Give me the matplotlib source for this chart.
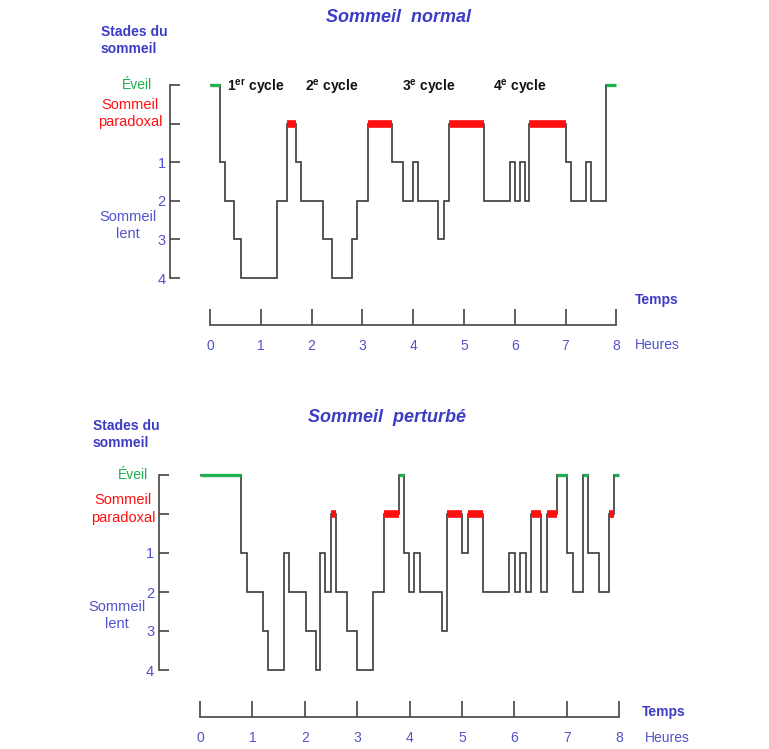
import matplotlib.pyplot as plt

plt.rcParams['font.family'] = ['Liberation Sans', 'DejaVu Sans']
plt.rcParams['mathtext.fontset'] = 'custom'
plt.rcParams['mathtext.rm'] = 'Liberation Sans'
plt.rcParams['mathtext.bf'] = 'Liberation Sans:bold'

W, H = 769, 749

BLUE = '#3c3cc4'
LBLUE = '#5252cc'
GREEN = '#1fb050'
RED = '#ff1010'
LINE = '#3a3a3a'

# stages from bottom (stade 4) to top (éveil)
stage_names = ['4', '3', '2', '1', 'R', 'E']
stage_level = {s: i for i, s in enumerate(stage_names)}
ytick_labels = ['4', '3', '2', '1', '', '']

hours = list(range(9))

# sommeil normal : bornes (heures) et stade de chaque segment
normal_edges = [0, 0.2, 0.3, 0.47, 0.61, 1.32, 1.52, 1.69, 1.79, 2.22, 2.4,
                2.8, 2.89, 3.11, 3.58, 3.8, 4.0, 4.09, 4.49, 4.61, 4.7, 5.39,
                5.91, 6.0, 6.1, 6.2, 6.28, 7.01, 7.11, 7.4, 7.5, 7.8, 8.0]
normal_stages = ['E', '1', '2', '3', '4', '2', 'R', '1', '2', '3', '4', '3',
                 '2', 'R', '1', '2', '1', '2', '3', '2', 'R', '2', '1', '2',
                 '1', '2', 'R', '1', '2', '1', '2', 'E']

# sommeil perturbé
perturbe_edges = [0, 0.78, 0.9, 1.2, 1.3, 1.6, 1.7, 2.02, 2.21, 2.29, 2.39,
                  2.5, 2.6, 2.81, 3.0, 3.3, 3.51, 3.8, 3.89, 3.99, 4.08, 4.2,
                  4.62, 4.71, 5.0, 5.11, 5.4, 5.9, 6.01, 6.11, 6.22, 6.32,
                  6.51, 6.62, 6.81, 7.0, 7.12, 7.31, 7.4, 7.61, 7.81, 7.9, 8.0]
perturbe_stages = ['E', '1', '2', '3', '4', '1', '2', '3', '4', '1', '2', 'R',
                   '2', '3', '4', '2', 'R', 'E', '1', '2', '1', '2', '3', 'R',
                   '1', 'R', '2', '1', '2', '1', '2', 'R', '2', 'R', 'E', '1',
                   '2', 'E', '1', '2', 'R', 'E']

cycle_labels = [r'1$^{\mathbf{er}}$ cycle', r'2$^{\mathbf{e}}$ cycle',
                r'3$^{\mathbf{e}}$ cycle', r'4$^{\mathbf{e}}$ cycle']


fig = plt.figure(figsize=(W / 100, H / 100), dpi=100)


def px_axes(left, top, right, bottom):
    return fig.add_axes([left / W, 1 - bottom / H, (right - left) / W, (bottom - top) / H])


def ftext(x, y, s, **kw):
    fig.text(x / W, 1 - y / H, s, **kw)


def draw_panel(edges, stages, spine_x, t0_x, px_h, y_top, y_bot, axis_y, ypad):
    right = 648
    xlim = ((spine_x - t0_x) / px_h, (right - t0_x) / px_h)

    ax = px_axes(spine_x, y_top, right, y_bot)
    ax.set_xlim(*xlim)
    ax.set_ylim(0, 5)
    levels = [stage_level[s] for s in stages]
    ax.stairs(levels, edges, baseline=None, color=LINE, lw=1.2, clip_on=False)
    for a, b, s in zip(edges[:-1], edges[1:], stages):
        if s == 'E':
            ax.hlines(stage_level['E'], a, b, color=GREEN, lw=2.4, zorder=3, clip_on=False)
        elif s == 'R':
            ax.hlines(stage_level['R'], a, b, color=RED, lw=5.5, zorder=3)
    for sp in ['top', 'right', 'bottom']:
        ax.spines[sp].set_visible(False)
    ax.spines['left'].set_color('#444444')
    ax.spines['left'].set_linewidth(1.2)
    ax.set_xticks([])
    ax.set_yticks(range(6))
    ax.set_yticklabels(ytick_labels)
    ax.tick_params(axis='y', direction='in', length=7.5, width=1.2, color='#444444',
                   labelcolor=LBLUE, labelsize=10.5, pad=ypad)

    # axe du temps
    axt = px_axes(spine_x, axis_y - 20, right, axis_y)
    axt.set_xlim(*xlim)
    axt.set_yticks([])
    for sp in ['top', 'right', 'left']:
        axt.spines[sp].set_visible(False)
    axt.spines['bottom'].set_bounds(0, 8)
    axt.spines['bottom'].set_color('#444444')
    axt.spines['bottom'].set_linewidth(1.2)
    axt.set_xticks(hours)
    axt.tick_params(axis='x', direction='in', length=11.5, width=1.2, color='#444444',
                    labelcolor=LBLUE, labelsize=10, pad=10)
    axt.patch.set_alpha(0)
    return ax


# ---- sommeil normal ----
draw_panel(normal_edges, normal_stages, 170, 210, 50.8, 85, 278, 325, 3)
ftext(398, 18, 'Sommeil  normal', color=BLUE, fontsize=13, fontweight='bold',
      fontstyle='italic', ha='center', va='center')
ftext(101, 32, 'Stades du', color=BLUE, fontsize=10, fontweight='bold', va='center')
ftext(101, 49, 'sommeil', color=BLUE, fontsize=10, fontweight='bold', va='center')
ftext(137, 85, 'Éveil', color=GREEN, fontsize=10, ha='center', va='center')
ftext(130, 105, 'Sommeil', color=RED, fontsize=10.5, ha='center', va='center')
ftext(130, 122, 'paradoxal', color=RED, fontsize=10.5, ha='center', va='center')
ftext(128, 217, 'Sommeil', color=LBLUE, fontsize=10.5, ha='center', va='center')
ftext(128, 234, 'lent', color=LBLUE, fontsize=10.5, ha='center', va='center')
for x, lab in zip([227, 305, 402, 493], cycle_labels):
    ftext(x, 87, lab, color='#111111', fontsize=10, fontweight='bold', va='center')
ftext(657, 300, 'Temps', color=BLUE, fontsize=10, fontweight='bold', ha='center', va='center')
ftext(657, 345, 'Heures', color=LBLUE, fontsize=10, ha='center', va='center')

# ---- sommeil perturbé ----
draw_panel(perturbe_edges, perturbe_stages, 159, 200, 52.4, 475, 670, 717, 3.5)
ftext(387, 418, 'Sommeil  perturbé', color=BLUE, fontsize=13, fontweight='bold',
      fontstyle='italic', ha='center', va='center')
ftext(93, 426, 'Stades du', color=BLUE, fontsize=10, fontweight='bold', va='center')
ftext(93, 443, 'sommeil', color=BLUE, fontsize=10, fontweight='bold', va='center')
ftext(133, 475, 'Éveil', color=GREEN, fontsize=10, ha='center', va='center')
ftext(123, 500, 'Sommeil', color=RED, fontsize=10.5, ha='center', va='center')
ftext(123, 518, 'paradoxal', color=RED, fontsize=10.5, ha='center', va='center')
ftext(117, 607, 'Sommeil', color=LBLUE, fontsize=10.5, ha='center', va='center')
ftext(117, 624, 'lent', color=LBLUE, fontsize=10.5, ha='center', va='center')
ftext(664, 712, 'Temps', color=BLUE, fontsize=10, fontweight='bold', ha='center', va='center')
ftext(667, 738, 'Heures', color=LBLUE, fontsize=10, ha='center', va='center')

fig.savefig('out.png', dpi=100)
